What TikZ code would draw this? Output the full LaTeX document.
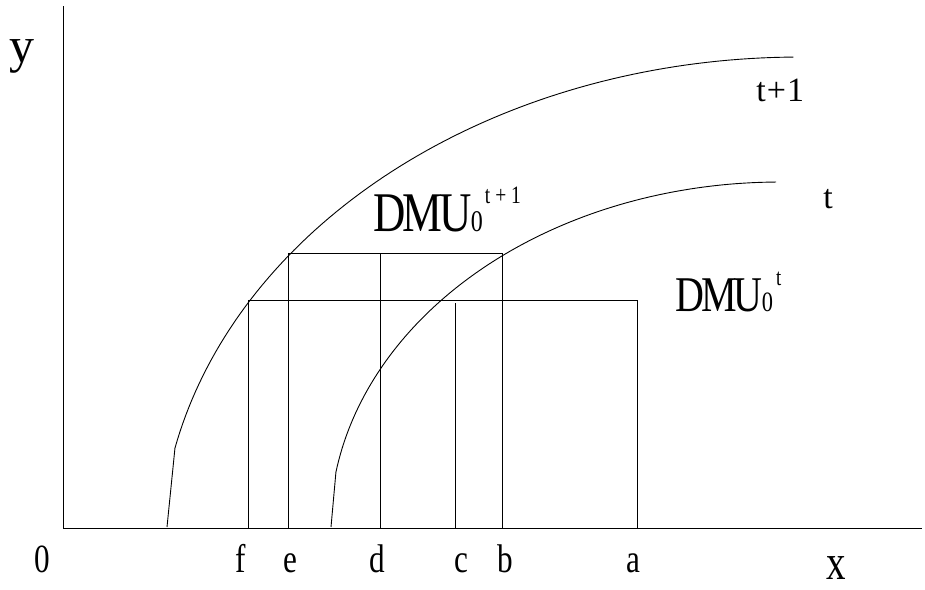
\documentclass[tikz,border=0pt]{standalone}
\usepackage{fontspec}
\setmainfont{Liberation Serif}
\newfontfamily\condfont[FakeStretch=0.78]{Liberation Serif}
\newfontfamily\narrowfont[FakeStretch=0.8]{Liberation Serif}
\newcommand{\fs}[1]{\fontsize{#1}{#1}\selectfont}
\begin{document}
\begin{tikzpicture}[x=1pt,y=-1pt,line width=0.9pt,
  lbl/.style={inner sep=0pt,anchor=base,font=\condfont\fs{40}},
  curve/.style={line width=0.9pt,line join=round}]
\useasboundingbox (0,0) rectangle (925,589);
% axes
\coordinate (O) at (63,528);
\coordinate (Ytop) at (63,6);
\coordinate (Xend) at (922,528);
\draw (Ytop) -- (O) -- (Xend);
% rectangles
\draw (248,300) rectangle (637,528.8);
\draw (288,253) rectangle (502,528.8);
\draw (380,253) -- (380,528);
\draw (455,303) -- (455,528);
% t+1 frontier
\draw[curve] (167,527) -- plot[domain=12.4:89.4,samples=80] ({800-640*cos(\x)},{555-498*sin(\x)});
% t frontier
\draw[curve] (331,527) -- plot[domain=9.3:89.5,samples=80] ({780-450*cos(\x)},{528-346*sin(\x)});
% axis labels
\node[lbl,font=\fs{50}] (ylab) at (22,62) {y};
\node[lbl,font=\condfont\fs{50}] (xlab) at (836,579) {x};
\node[lbl] (l0) at (42,572) {0};
\node[lbl] (lf) at (241,572) {f};
\node[lbl] (le) at (290,572) {e};
\node[lbl] (ld) at (377,572) {d};
\node[lbl] (lc) at (461,572) {c};
\node[lbl] (lb) at (505,572) {b};
\node[lbl] (la) at (633,572) {a};
% curve labels
\node[lbl,anchor=base west,font=\fs{34}] (tp1) at (756,101) {t\kern1pt+\kern1pt1};
\node[lbl,anchor=base west,font=\fs{34}] (tt) at (823,208) {t};
% DMU labels
\node[lbl,anchor=base west,font=\narrowfont\fs{56}] (dmu1) at (373,231) {D\kern-3pt M\kern-3pt U\kern-1pt{\fs{30}0}\kern2pt\raisebox{28pt}{\condfont\fs{25}t + 1}};
\node[lbl,anchor=base west,font=\narrowfont\fs{50}] (dmu0) at (675,311) {D\kern-3pt M\kern-3pt U\kern-1pt{\fs{28}0}\kern3pt\raisebox{26pt}{\condfont\fs{24}t}};
\end{tikzpicture}
\end{document}
